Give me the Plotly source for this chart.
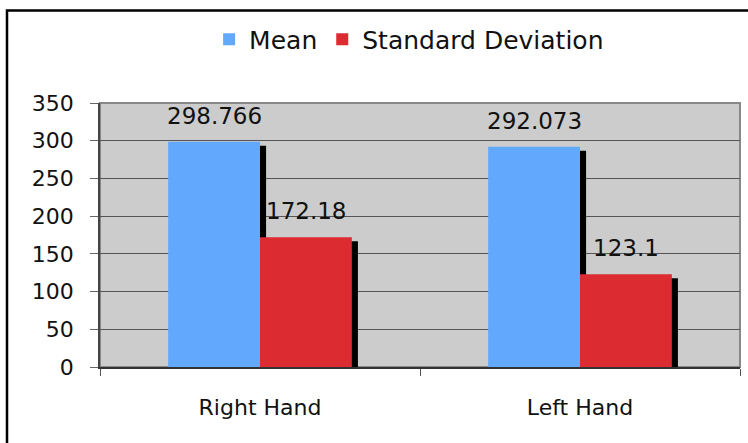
import plotly.graph_objects as go

categories = ["Right Hand", "Left Hand"]
mean_values = [298.766, 292.073]
sd_values = [172.18, 123.1]
mean_labels = ["298.766", "292.073"]
sd_labels = ["172.18", "123.1"]
y_ticks = [0, 50, 100, 150, 200, 250, 300, 350]

BLUE = "#62a8fd"
RED = "#dd2b32"
BAR_W = 0.287
SH_DX = 0.019   # shadow horizontal offset (category units)
SH_DY = 5.5     # shadow vertical offset (value units)

FONT = "DejaVu Sans, Verdana, sans-serif"

fig = go.Figure()

series = [
    ("Mean", mean_values, mean_labels, BLUE, -BAR_W),
    ("Standard Deviation", sd_values, sd_labels, RED, 0.0),
]

for name, vals, labels, color, off in series:
    fig.add_trace(go.Bar(
        x=categories, y=[v - SH_DY for v in vals],
        offset=off + SH_DX, width=BAR_W,
        marker=dict(color="black", line=dict(width=0)),
        showlegend=False, hoverinfo="skip",
    ))
    fig.add_trace(go.Bar(
        name=name, x=categories, y=vals,
        offset=off, width=BAR_W,
        marker=dict(color=color, line=dict(width=0)),
    ))

annotations = []
for name, vals, labels, color, off in series:
    for i, (v, lab) in enumerate(zip(vals, labels)):
        annotations.append(dict(
            x=i + off + BAR_W / 2, y=v, xref="x", yref="y",
            text=lab, showarrow=False, yshift=26,
            font=dict(family=FONT, size=23, color="#111"),
        ))

fig.update_layout(
    width=748, height=443,
    margin=dict(l=100, r=8, t=103, b=76),
    paper_bgcolor="white",
    plot_bgcolor="#cccccc",
    barmode="overlay",
    showlegend=True,
    legend=dict(
        orientation="h", x=0.483, xanchor="center",
        y=(366.7 - 40) / 263.4, yanchor="middle",
        font=dict(family=FONT, size=25, color="#111"),
        itemwidth=30, tracegroupgap=0, traceorder="normal",
    ),
    annotations=annotations,
    shapes=[
        dict(type="rect", xref="paper", yref="paper",
             x0=0, x1=1, y0=0, y1=1, line=dict(color="#888888", width=2),
             layer="below"),
        dict(type="rect", xref="paper", yref="paper",
             x0=(7 - 100) / 640, x1=1.05, y0=-0.35, y1=(366.7 - 11) / 263.4,
             line=dict(color="black", width=2.5)),
    ],
)

fig.update_xaxes(
    type="category", range=[-0.5, 1.5],
    showline=True, linecolor="#333333", linewidth=2,
    ticks="outside", tickson="boundaries", ticklen=7, tickcolor="#555555",
    showgrid=False,
    tickfont=dict(family=FONT, size=22, color="#111"),
    ticklabelstandoff=20,
)
fig.update_yaxes(
    range=[0, 350], tickvals=y_ticks,
    showline=True, linecolor="#444444", linewidth=1.5,
    ticks="outside", ticklen=8, tickcolor="#666666",
    showgrid=True, gridcolor="#555555", gridwidth=1,
    zeroline=False,
    tickfont=dict(family=FONT, size=22, color="#111"),
    ticklabelstandoff=12,
)

fig.write_html("out.html", config={"displayModeBar": False},
               post_script="document.body.style.margin='0';")
